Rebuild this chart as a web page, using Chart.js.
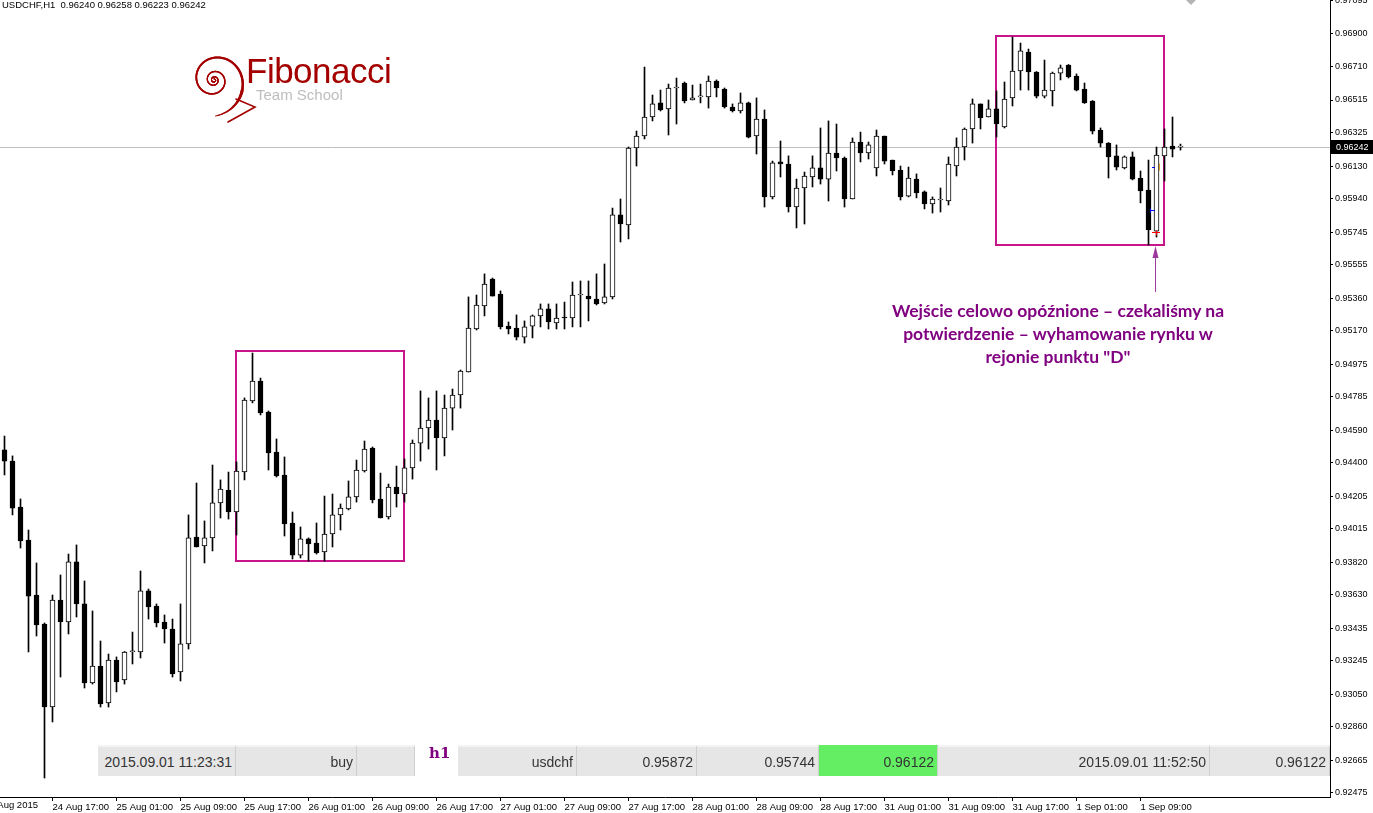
<!DOCTYPE html>
<html>
<head>
<meta charset="utf-8">
<title>USDCHF,H1</title>
<script src="https://cdn.jsdelivr.net/npm/chart.js@4.4.1/dist/chart.umd.min.js"></script>
<style>
  html, body { margin: 0; padding: 0; background: #fff; overflow: hidden; }
  #wrap { position: relative; width: 1373px; height: 813px; font-family: 'Liberation Sans', Arial, sans-serif; }
  #chart { position: absolute; left: 0; top: 0; }
  .txt { position: absolute; white-space: nowrap; }
  #header { left: 2px; top: -1px; font-size: 9.5px; color: #000; }
  #fibo { left: 246px; top: 51px; font-size: 35px; color: #a40000; letter-spacing: -0.5px; }
  #team { left: 256px; top: 86px; font-size: 15px; color: #bdbdbd; }
  #note { left: 808px; top: 299px; width: 500px; text-align: center; font: bold 17.5px Lato, sans-serif; color: #800080; line-height: 23px; }
  #augLbl { right: 1335px; top: 799px; font-size: 9.5px; color: #000; }
  .cell { position: absolute; top: 745px; height: 31px; line-height: 31px; box-sizing: border-box;
          background: #e6e6e6; border-top: 2px solid #f4f4f4; border-right: 1px solid #cfcfcf;
          text-align: right; padding-right: 3px; font-size: 14px; color: #333; }
  #h1 { left: 429px; top: 744px; font: bold 15px 'DejaVu Serif', serif; color: #800080; }
</style>
</head>
<body>
<div id="wrap">
  <canvas id="chart" width="1373" height="813"></canvas>
  <div class="txt" id="header">USDCHF,H1&nbsp;&nbsp;0.96240 0.96258 0.96223 0.96242</div>
  <div class="txt" id="fibo">Fibonacci</div>
  <div class="txt" id="team">Team School</div>
  <div class="txt" id="note">Wejście celowo opóźnione – czekaliśmy na<br>potwierdzenie – wyhamowanie rynku w<br>rejonie punktu "D"</div>
  <div class="txt" id="augLbl">24 Aug 2015</div>
  <div class="cell" style="left:98px;width:138px">2015.09.01 11:23:31</div>
  <div class="cell" style="left:236px;width:121px">buy</div>
  <div class="cell" style="left:357px;width:58px"></div>
  <div class="txt" id="h1">h1</div>
  <div class="cell" style="left:458px;width:119px">usdchf</div>
  <div class="cell" style="left:577px;width:120px">0.95872</div>
  <div class="cell" style="left:697px;width:122px">0.95744</div>
  <div class="cell" style="left:819px;width:119px;background:#64ee64;border-top-color:#64ee64">0.96122</div>
  <div class="cell" style="left:938px;width:272px">2015.09.01 11:52:50</div>
  <div class="cell" style="left:1210px;width:120px">0.96122</div>
</div>
<script>
// USDCHF H1, 24 Aug 2015 11:00 .. 1 Sep 2015, one value per hourly bar
const open = [
  0.94475, 0.94410, 0.94142, 0.93950, 0.93629, 0.93460, 0.92976, 0.93600, 0.93472, 0.93822,
  0.93577, 0.93116, 0.93215, 0.93000, 0.93250, 0.93134, 0.93297, 0.93297, 0.93653, 0.93565,
  0.93472, 0.93431, 0.93180, 0.93344, 0.93967, 0.93915, 0.93962, 0.94166, 0.94241, 0.94113,
  0.94346, 0.94760, 0.94877, 0.94696, 0.94463, 0.94329, 0.94049, 0.93862, 0.93956, 0.93932,
  0.93880, 0.93985, 0.94096, 0.94131, 0.94201, 0.94352, 0.94486, 0.94189, 0.94084, 0.94259,
  0.94218, 0.94370, 0.94515, 0.94603, 0.94649, 0.94545, 0.94719, 0.94795, 0.94929, 0.95180,
  0.95314, 0.95471, 0.95384, 0.95197, 0.95186, 0.95133, 0.95197, 0.95256, 0.95297, 0.95215,
  0.95250, 0.95244, 0.95378, 0.95372, 0.95355, 0.95332, 0.95367, 0.95845, 0.95786, 0.96235,
  0.96305, 0.96416, 0.96498, 0.96463, 0.96585, 0.96614, 0.96515, 0.96533, 0.96533, 0.96626,
  0.96579, 0.96474, 0.96451, 0.96498, 0.96305, 0.96404, 0.95950, 0.96154, 0.96142, 0.95891,
  0.96002, 0.96066, 0.96119, 0.96054, 0.96206, 0.96177, 0.95938, 0.96270, 0.96206, 0.96119,
  0.96305, 0.96165, 0.96107, 0.95955, 0.96054, 0.95979, 0.95909, 0.95932, 0.95926, 0.96130,
  0.96241, 0.96346, 0.96492, 0.96416, 0.96463, 0.96358, 0.96527, 0.96684, 0.96795, 0.96678,
  0.96538, 0.96568, 0.96672, 0.96719, 0.96655, 0.96579, 0.96509, 0.96340, 0.96264, 0.96189,
  0.96119, 0.96183, 0.96060, 0.95990, 0.95751, 0.96189, 0.96247, 0.96240
];
const high = [
  0.94556, 0.94440, 0.94189, 0.94008, 0.93816, 0.93466, 0.93629, 0.93746, 0.93868, 0.93921,
  0.93711, 0.93536, 0.93361, 0.93285, 0.93268, 0.93300, 0.93413, 0.93769, 0.93664, 0.93577,
  0.93513, 0.93489, 0.93577, 0.94096, 0.94282, 0.94061, 0.94387, 0.94300, 0.94346, 0.94405,
  0.94778, 0.95040, 0.94894, 0.94702, 0.94539, 0.94434, 0.94113, 0.94026, 0.93962, 0.94049,
  0.94206, 0.94218, 0.94160, 0.94294, 0.94416, 0.94527, 0.94492, 0.94340, 0.94276, 0.94381,
  0.94422, 0.94533, 0.94819, 0.94778, 0.94819, 0.94795, 0.94830, 0.94941, 0.95367, 0.95378,
  0.95501, 0.95477, 0.95402, 0.95221, 0.95262, 0.95227, 0.95262, 0.95326, 0.95326, 0.95326,
  0.95337, 0.95454, 0.95460, 0.95460, 0.95501, 0.95559, 0.95885, 0.95938, 0.96241, 0.96334,
  0.96707, 0.96544, 0.96573, 0.96608, 0.96643, 0.96620, 0.96602, 0.96608, 0.96655, 0.96632,
  0.96585, 0.96492, 0.96556, 0.96503, 0.96527, 0.96457, 0.96159, 0.96276, 0.96189, 0.96054,
  0.96095, 0.96189, 0.96352, 0.96393, 0.96375, 0.96183, 0.96294, 0.96328, 0.96270, 0.96340,
  0.96305, 0.96165, 0.96130, 0.96124, 0.96084, 0.95985, 0.95950, 0.96002, 0.96183, 0.96294,
  0.96352, 0.96521, 0.96492, 0.96515, 0.96568, 0.96620, 0.96882, 0.96847, 0.96812, 0.96681,
  0.96748, 0.96678, 0.96719, 0.96722, 0.96667, 0.96614, 0.96512, 0.96352, 0.96267, 0.96253,
  0.96189, 0.96212, 0.96101, 0.96165, 0.96241, 0.96346, 0.96416, 0.96258
];
const low = [
  0.94329, 0.94096, 0.93903, 0.93297, 0.93390, 0.92562, 0.92889, 0.93151, 0.93402, 0.93501,
  0.93087, 0.93110, 0.92976, 0.92976, 0.93064, 0.93110, 0.93227, 0.93262, 0.93489, 0.93443,
  0.93349, 0.93151, 0.93128, 0.93314, 0.93909, 0.93816, 0.93886, 0.94078, 0.94072, 0.93979,
  0.94300, 0.94749, 0.94679, 0.94358, 0.94317, 0.93973, 0.93839, 0.93845, 0.93827, 0.93868,
  0.93827, 0.93909, 0.94008, 0.94125, 0.94171, 0.94346, 0.94166, 0.94078, 0.94072, 0.94142,
  0.94171, 0.94305, 0.94410, 0.94480, 0.94358, 0.94440, 0.94591, 0.94719, 0.94929, 0.95174,
  0.95256, 0.95372, 0.95180, 0.95151, 0.95116, 0.95098, 0.95128, 0.95192, 0.95180, 0.95180,
  0.95180, 0.95192, 0.95192, 0.95227, 0.95320, 0.95326, 0.95355, 0.95687, 0.95705, 0.96130,
  0.96288, 0.96393, 0.96451, 0.96311, 0.96375, 0.96498, 0.96515, 0.96498, 0.96468, 0.96533,
  0.96468, 0.96445, 0.96439, 0.96294, 0.96200, 0.95891, 0.95938, 0.96066, 0.95862, 0.95769,
  0.95792, 0.96008, 0.96025, 0.95926, 0.96101, 0.95891, 0.95938, 0.96154, 0.96171, 0.96072,
  0.96142, 0.96078, 0.95932, 0.95950, 0.95944, 0.95880, 0.95856, 0.95862, 0.95903, 0.96072,
  0.96165, 0.96264, 0.96346, 0.96416, 0.96299, 0.96352, 0.96480, 0.96573, 0.96573, 0.96527,
  0.96527, 0.96480, 0.96632, 0.96643, 0.96568, 0.96495, 0.96317, 0.96241, 0.96060, 0.96107,
  0.96113, 0.96049, 0.95915, 0.95670, 0.95716, 0.96043, 0.96183, 0.96223
];
const close = [
  0.94410, 0.94136, 0.93944, 0.93623, 0.93454, 0.92976, 0.93600, 0.93472, 0.93822, 0.93577,
  0.93116, 0.93215, 0.92994, 0.93250, 0.93122, 0.93297, 0.93303, 0.93653, 0.93559, 0.93466,
  0.93431, 0.93169, 0.93344, 0.93962, 0.93909, 0.93962, 0.94166, 0.94247, 0.94113, 0.94352,
  0.94766, 0.94877, 0.94690, 0.94457, 0.94323, 0.94043, 0.93862, 0.93956, 0.93927, 0.93874,
  0.93985, 0.94096, 0.94136, 0.94201, 0.94358, 0.94480, 0.94183, 0.94078, 0.94259, 0.94218,
  0.94370, 0.94515, 0.94603, 0.94649, 0.94545, 0.94719, 0.94795, 0.94935, 0.95186, 0.95320,
  0.95442, 0.95372, 0.95192, 0.95180, 0.95133, 0.95192, 0.95256, 0.95297, 0.95221, 0.95244,
  0.95244, 0.95378, 0.95384, 0.95355, 0.95326, 0.95367, 0.95845, 0.95792, 0.96235, 0.96305,
  0.96416, 0.96492, 0.96457, 0.96585, 0.96591, 0.96509, 0.96527, 0.96534, 0.96626, 0.96585,
  0.96474, 0.96451, 0.96498, 0.96299, 0.96404, 0.95950, 0.96148, 0.96142, 0.95891, 0.96002,
  0.96072, 0.96119, 0.96054, 0.96206, 0.96177, 0.95938, 0.96270, 0.96206, 0.96253, 0.96305,
  0.96159, 0.96101, 0.95950, 0.96060, 0.95973, 0.95909, 0.95938, 0.95935, 0.96142, 0.96241,
  0.96346, 0.96492, 0.96410, 0.96463, 0.96375, 0.96521, 0.96684, 0.96801, 0.96678, 0.96538,
  0.96573, 0.96672, 0.96702, 0.96649, 0.96573, 0.96498, 0.96334, 0.96264, 0.96183, 0.96124,
  0.96183, 0.96054, 0.95985, 0.95757, 0.96194, 0.96241, 0.96229, 0.96242
];

// axis labels
const priceTicks = [
  0.97095, 0.96900, 0.96710, 0.96515, 0.96325, 0.96130, 0.95940, 0.95745, 0.95555, 0.95360,
  0.95170, 0.94975, 0.94785, 0.94590, 0.94400, 0.94205, 0.94015, 0.93820, 0.93630, 0.93435,
  0.93245, 0.93050, 0.92860, 0.92665, 0.92475
];
const timeLabels = [
  '24 Aug 17:00', '25 Aug 01:00', '25 Aug 09:00', '25 Aug 17:00', '26 Aug 01:00', '26 Aug 09:00',
  '26 Aug 17:00', '27 Aug 01:00', '27 Aug 09:00', '27 Aug 17:00', '28 Aug 01:00', '28 Aug 09:00',
  '28 Aug 17:00', '31 Aug 01:00', '31 Aug 09:00', '31 Aug 17:00', '1 Sep 01:00', '1 Sep 09:00'
];
const firstLabelBar = 6;   // bar of '24 Aug 17:00'
const labelStep = 8;       // one label every 8 hours

// drawn objects: [barFrom, barTo, priceTop, priceBottom]
const boxes = [
  [28.94, 49.94, 0.95052, 0.93827],
  [123.9, 144.9, 0.96888, 0.95667]
];
// trade levels from the panel
const entryPrice = 0.95872;
const stopPrice = 0.95744;
const closePrice = 0.96122;
const arrowFrom = [143.8, 0.95396];
const arrowTo = [143.8, 0.95664];

const lastClose = close[close.length - 1];

const wickData = open.map(function (o, i) { return { x: i, y: [low[i], high[i]] }; });
const bodyData = open.map(function (o, i) { return { x: i, y: [open[i], close[i]] }; });
const bodyFill = open.map(function (o, i) { return close[i] >= open[i] ? '#ffffff' : '#000000'; });

const overlay = {
  id: 'overlay',
  beforeDatasetsDraw: function (chart) {
    const ctx = chart.ctx;
    const area = chart.chartArea;
    const xs = chart.scales.x;
    const ys = chart.scales.y;
    ctx.save();
    // bid line
    const py = Math.round(ys.getPixelForValue(lastClose)) + 0.5;
    ctx.strokeStyle = '#c0c0c0';
    ctx.lineWidth = 1;
    ctx.beginPath();
    ctx.moveTo(area.left, py);
    ctx.lineTo(area.right, py);
    ctx.stroke();
    // rectangles
    ctx.strokeStyle = '#c8168a';
    ctx.lineWidth = 2;
    boxes.forEach(function (b) {
      const x0 = Math.round(xs.getPixelForValue(b[0]));
      const x1 = Math.round(xs.getPixelForValue(b[1]));
      const y0 = Math.round(ys.getPixelForValue(b[2]));
      const y1 = Math.round(ys.getPixelForValue(b[3]));
      ctx.strokeRect(x0, y0, x1 - x0, y1 - y0);
    });
    ctx.restore();
  },
  afterDatasetsDraw: function (chart) {
    const ctx = chart.ctx;
    const xs = chart.scales.x;
    const ys = chart.scales.y;
    ctx.save();
    // trade marks
    const ex = Math.round(xs.getPixelForValue(143.6));
    let y = Math.round(ys.getPixelForValue(entryPrice)) + 0.5;
    ctx.strokeStyle = '#0000ff';
    ctx.lineWidth = 1;
    ctx.beginPath(); ctx.moveTo(ex - 3, y); ctx.lineTo(ex + 2, y); ctx.moveTo(ex - 2.5, y - 2); ctx.lineTo(ex - 2.5, y + 2); ctx.stroke();
    y = Math.round(ys.getPixelForValue(closePrice)) + 0.5;
    ctx.beginPath(); ctx.moveTo(ex - 1, y); ctx.lineTo(ex + 2, y); ctx.stroke();
    ctx.strokeStyle = '#d4a020';
    ctx.beginPath(); ctx.moveTo(ex + 6.5, y - 4); ctx.lineTo(ex + 6.5, y + 3); ctx.stroke();
    y = Math.round(ys.getPixelForValue(stopPrice)) + 0.5;
    ctx.strokeStyle = '#ff0000';
    ctx.beginPath(); ctx.moveTo(ex - 1, y); ctx.lineTo(ex + 7, y); ctx.moveTo(ex + 3.5, y - 2); ctx.lineTo(ex + 3.5, y + 3); ctx.stroke();
    // arrow
    const ax = Math.round(xs.getPixelForValue(arrowFrom[0])) + 0.5;
    const ay0 = ys.getPixelForValue(arrowFrom[1]);
    const ay1 = ys.getPixelForValue(arrowTo[1]);
    ctx.strokeStyle = '#9b3a9b';
    ctx.fillStyle = '#9b3a9b';
    ctx.beginPath(); ctx.moveTo(ax, ay0); ctx.lineTo(ax, ay1 + 6); ctx.stroke();
    ctx.beginPath(); ctx.moveTo(ax, ay1); ctx.lineTo(ax - 3, ay1 + 12); ctx.lineTo(ax + 3, ay1 + 12); ctx.closePath(); ctx.fill();
    ctx.restore();
  },
  afterDraw: function (chart) {
    const ctx = chart.ctx;
    const area = chart.chartArea;
    const ys = chart.scales.y;
    ctx.save();
    // bid label on the price scale
    const py = Math.round(ys.getPixelForValue(lastClose));
    ctx.fillStyle = '#000';
    ctx.fillRect(area.right + 1, py - 7, 43, 14);
    ctx.fillStyle = '#fff';
    ctx.font = '9px "Liberation Sans", Arial, sans-serif';
    ctx.textBaseline = 'middle';
    ctx.fillText(lastClose.toFixed(5), area.right + 6, py + 0.5);
    // chart shift marker
    ctx.fillStyle = '#b4b4b4';
    ctx.beginPath(); ctx.moveTo(1186, 0); ctx.lineTo(1196, 0); ctx.lineTo(1191, 5); ctx.closePath(); ctx.fill();
    // logo spiral
    const cx = 214, cy = 80, b = 0.155, turns = 7 * Math.PI;
    ctx.strokeStyle = '#a40000';
    ctx.lineCap = 'round';
    let px = null, pyy = null;
    for (let t = 0; t <= turns; t += 0.05) {
      const r = 1.2 * Math.exp(b * t);
      const ang = t - Math.PI / 2 - 6 * Math.PI;
      const x = cx + r * Math.cos(ang);
      const yy = cy + r * Math.sin(ang);
      if (px !== null) {
        ctx.lineWidth = t > turns - 1.2 ? 0.9 + (turns - t) * 1.8 : 0.9 + r * 0.05;
        ctx.beginPath(); ctx.moveTo(px, pyy); ctx.lineTo(x, yy); ctx.stroke();
      }
      px = x; pyy = yy;
    }
    ctx.lineWidth = 1.6;
    ctx.beginPath(); ctx.moveTo(236, 99); ctx.lineTo(255, 107); ctx.lineTo(228, 122); ctx.stroke();
    ctx.restore();
  }
};

const chart = new Chart(document.getElementById('chart'), {
  type: 'bar',
  data: {
    datasets: [
      {
        label: 'wick',
        data: wickData,
        backgroundColor: '#000000',
        barThickness: 1,
        grouped: false,
        order: 2
      },
      {
        label: 'body',
        data: bodyData,
        backgroundColor: bodyFill,
        borderColor: '#000000',
        borderWidth: 1,
        borderSkipped: false,
        barThickness: 5,
        minBarLength: 1,
        grouped: false,
        order: 1
      }
    ]
  },
  options: {
    responsive: false,
    animation: false,
    layout: { padding: 0 },
    plugins: { legend: { display: false }, tooltip: { enabled: false } },
    scales: {
      x: {
        type: 'linear',
        offset: false,
        min: -0.5625,
        max: 165.6875,
        afterFit: function (scale) {
          scale.height = 16;
          scale.paddingLeft = 0;
          scale.paddingRight = 0;
        },
        afterBuildTicks: function (scale) {
          scale.ticks = timeLabels.map(function (t, k) { return { value: firstLabelBar + k * labelStep }; });
        },
        ticks: {
          autoSkip: false,
          maxRotation: 0,
          align: 'start',
          labelOffset: 0,
          padding: 1,
          color: '#000',
          font: { family: "'Liberation Sans', Arial, sans-serif", size: 9.5 },
          callback: function (value) {
            return timeLabels[Math.round((value - firstLabelBar) / labelStep)];
          }
        },
        grid: { drawOnChartArea: false, offset: false, tickLength: 4, color: '#000' },
        border: { color: '#000' }
      },
      y: {
        type: 'linear',
        position: 'right',
        min: 0.924515,
        max: 0.97098,
        afterFit: function (scale) {
          scale.width = 43;
          scale.paddingTop = 0;
          scale.paddingBottom = 0;
        },
        afterBuildTicks: function (scale) {
          scale.ticks = priceTicks.map(function (v) { return { value: v }; });
        },
        ticks: {
          autoSkip: false,
          padding: 2,
          color: '#000',
          font: { family: "'Liberation Sans', Arial, sans-serif", size: 9 },
          callback: function (value) { return value.toFixed(5); }
        },
        grid: { drawOnChartArea: false, tickLength: 3, color: '#000' },
        border: { color: '#000' }
      }
    }
  },
  plugins: [overlay]
});
</script>
</body>
</html>
